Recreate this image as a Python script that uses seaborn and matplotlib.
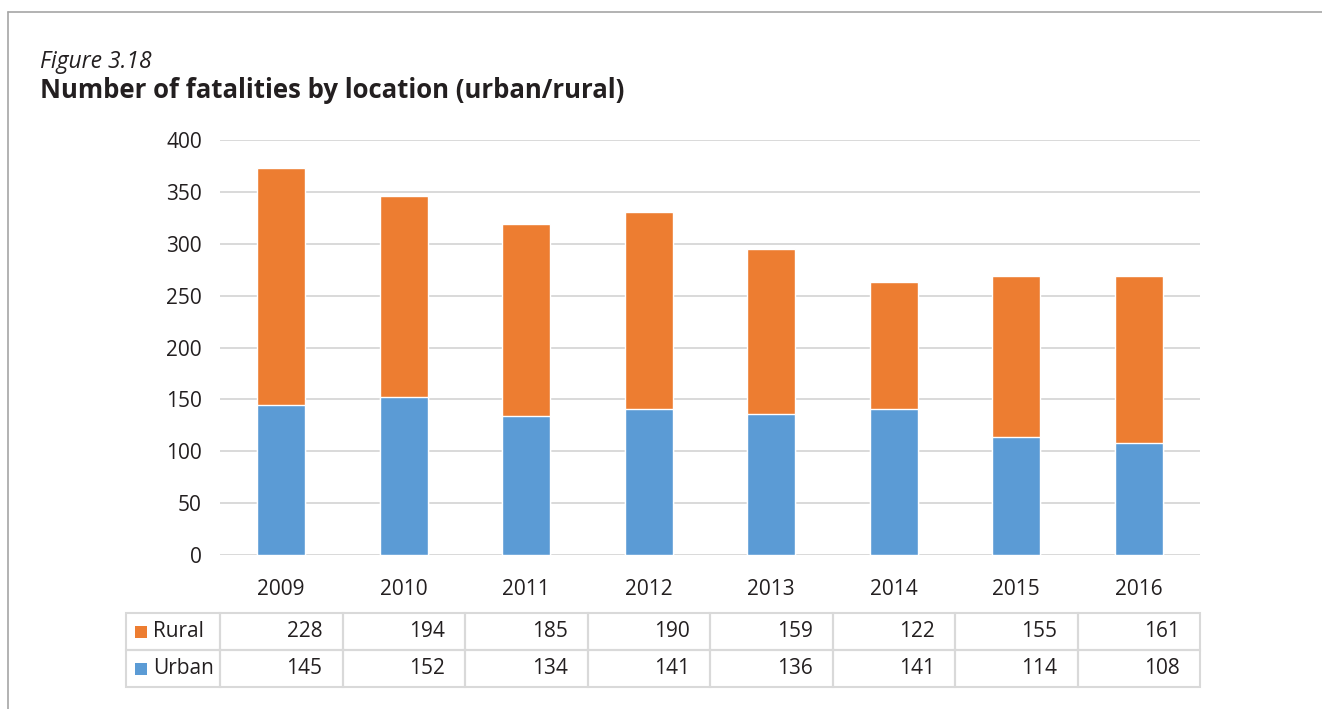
import matplotlib
matplotlib.use("Agg")
import matplotlib.pyplot as plt
import numpy as np
import pandas as pd
import seaborn as sns
from matplotlib.patches import Rectangle

years = ["2009", "2010", "2011", "2012", "2013", "2014", "2015", "2016"]
rural = [228, 194, 185, 190, 159, 122, 155, 161]
urban = [145, 152, 134, 141, 136, 141, 114, 108]

ORANGE = "#ED7D31"
BLUE = "#5B9BD5"
GRID = "#D9D9D9"
TEXT = "#231F20"

sns.set_theme(style="white")
plt.rcParams["font.family"] = ["Open Sans", "DejaVu Sans"]

df = pd.DataFrame({"year": years, "rural": rural, "urban": urban})
df["total"] = df["rural"] + df["urban"]

fig = plt.figure(figsize=(13.22, 7.09), dpi=100)
ax = fig.add_axes([220 / 1322, 1 - 555 / 709, 980 / 1322, 415 / 709])

# total bar in orange, urban drawn over it so the orange part shows rural
sns.barplot(data=df, x="year", y="total", color=ORANGE, width=0.39,
            saturation=1, ax=ax, zorder=3)
sns.barplot(data=df, x="year", y="urban", color=BLUE, width=0.39,
            saturation=1, ax=ax, zorder=4)

ax.set_ylim(0, 400)
ax.set_xlim(-0.5, len(years) - 0.5)
ax.set_yticks(np.arange(0, 401, 50))
ax.yaxis.grid(True, color=GRID, linewidth=1.4, zorder=0)
ax.set_axisbelow(True)
for s in ax.spines.values():
    s.set_visible(False)
ax.set_xlabel("")
ax.set_ylabel("")
ax.tick_params(axis="y", length=0, pad=13, labelsize=15, labelcolor=TEXT)
ax.tick_params(axis="x", length=0, pad=17, labelsize=15, labelcolor=TEXT)

# data table under the chart
col_w = 1 / len(years)
lab_w = 94 / 980
tbl_top = (555 - 613) / 415
row_h = (687 - 613) / 415 / 2
rows = [("Rural", ORANGE, rural), ("Urban", BLUE, urban)]
for r, (name, color, vals) in enumerate(rows):
    y0 = tbl_top - (r + 1) * row_h
    ax.add_patch(Rectangle((-lab_w, y0), lab_w, row_h, transform=ax.transAxes,
                           fill=False, edgecolor=GRID, linewidth=1.5, clip_on=False))
    ax.add_patch(Rectangle((-lab_w + 9 / 980, y0 + row_h / 2 - 6 / 415), 12 / 980, 12 / 415,
                           transform=ax.transAxes, facecolor=color, edgecolor="none",
                           clip_on=False))
    ax.text(-lab_w + 27 / 980, y0 + row_h / 2, name, transform=ax.transAxes,
            ha="left", va="center", fontsize=15, color=TEXT)
    for i, v in enumerate(vals):
        ax.add_patch(Rectangle((i * col_w, y0), col_w, row_h, transform=ax.transAxes,
                               fill=False, edgecolor=GRID, linewidth=1.5, clip_on=False))
        ax.text((i + 1) * col_w - 20 / 980, y0 + row_h / 2, str(v), transform=ax.transAxes,
                ha="right", va="center", fontsize=15, color=TEXT)

fig.text(40 / 1322, 1 - 68 / 709, "Figure 3.18", fontsize=16.5, style="italic",
         color=TEXT, ha="left", va="baseline")
fig.text(40 / 1322, 1 - 98 / 709, "Number of fatalities by location (urban/rural)",
         fontsize=18.5, fontweight="bold", color=TEXT, ha="left", va="baseline")

# page frame: top and left edges
fig.add_artist(plt.Line2D([8 / 1322, 1], [1 - 12 / 709, 1 - 12 / 709],
                          transform=fig.transFigure, color="#A6A6A6", linewidth=1.2))
fig.add_artist(plt.Line2D([8 / 1322, 8 / 1322], [0, 1 - 12 / 709],
                          transform=fig.transFigure, color="#A6A6A6", linewidth=1.2))

fig.savefig("out.png", dpi=100)
